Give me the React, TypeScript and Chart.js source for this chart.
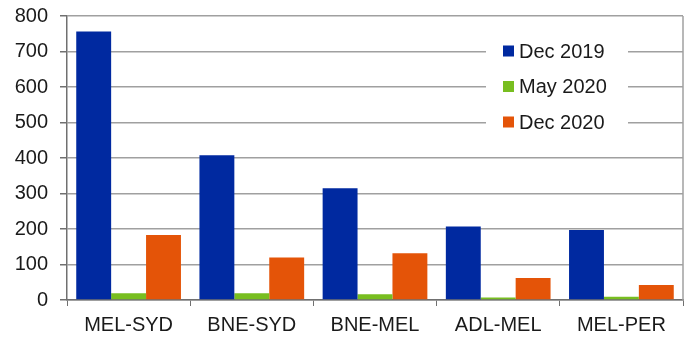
import React, { useEffect, useRef } from "react";
import { Chart, registerables } from "chart.js";

Chart.register(...registerables);

const categories = ["MEL-SYD", "BNE-SYD", "BNE-MEL", "ADL-MEL", "MEL-PER"];
const seriesLabels = ["Dec 2019", "May 2020", "Dec 2020"];
const dec2019 = [756, 408, 315, 207, 197];
const may2020 = [19, 19, 16, 7, 9];
const dec2020 = [183, 120, 132, 62, 42];
const seriesColors = ["#0029a0", "#78be20", "#e45408"];
const yTicks = [0, 100, 200, 300, 400, 500, 600, 700, 800];

const FONT = "'Liberation Sans', Arial, sans-serif";

const frameAndLegend = {
  id: "frameAndLegend",
  afterDatasetsDraw(chart: any) {
    const { ctx, chartArea } = chart;
    ctx.save();
    ctx.strokeStyle = "#a0a0a0";
    ctx.lineWidth = 1.5;
    ctx.beginPath();
    ctx.moveTo(chartArea.right, chartArea.top);
    ctx.lineTo(chartArea.right, chartArea.bottom);
    ctx.stroke();
    ctx.fillStyle = "#ffffff";
    ctx.fillRect(486, 31, 142, 110);
    ctx.font = `20px ${FONT}`;
    ctx.textBaseline = "middle";
    ctx.textAlign = "left";
    chart.data.datasets.forEach((ds: any, i: number) => {
      const cy = 51 + i * 35.5;
      ctx.fillStyle = ds.backgroundColor;
      ctx.fillRect(503, cy - 5.5, 11, 11);
      ctx.fillStyle = "#1a1a1a";
      ctx.fillText(ds.label, 519, cy + 1);
    });
    ctx.restore();
  },
};

export default function App() {
  const ref = useRef<HTMLCanvasElement | null>(null);
  useEffect(() => {
    if (!ref.current) return;
    const data = [dec2019, may2020, dec2020];
    const chart = new Chart(ref.current, {
      type: "bar",
      data: {
        labels: categories,
        datasets: seriesLabels.map((label, i) => ({
          label,
          data: data[i],
          backgroundColor: seriesColors[i],
          borderWidth: 0,
          barPercentage: 1,
          categoryPercentage: 0.85,
        })),
      },
      options: {
        animation: false,
        responsive: false,
        maintainAspectRatio: false,
        layout: { padding: { top: 16, right: 8, left: 0, bottom: 0 } },
        plugins: { legend: { display: false }, tooltip: { enabled: false } },
        scales: {
          x: {
            grid: {
              drawOnChartArea: false,
              drawTicks: true,
              tickLength: 6,
              color: "#707070",
              tickColor: "#707070",
              offset: true,
            },
            border: { color: "#707070", width: 1.5 },
            ticks: {
              font: { family: FONT, size: 20 },
              color: "#1a1a1a",
              padding: 7,
              maxRotation: 0,
            },
            afterFit(scale: any) {
              scale.height = 37;
              scale.paddingLeft = 0;
              scale.paddingRight = 0;
            },
          },
          y: {
            min: 0,
            max: 800,
            afterBuildTicks(scale: any) {
              scale.ticks = yTicks.map((v) => ({ value: v }));
            },
            grid: {
              color: "#a0a0a0",
              lineWidth: 1.5,
              tickLength: 7,
              tickColor: "#707070",
            },
            border: { color: "#707070", width: 1.5 },
            ticks: {
              font: { family: FONT, size: 20 },
              color: "#1a1a1a",
              padding: 12,
            },
            afterFit(scale: any) {
              scale.width = 67;
              scale.paddingTop = 0;
              scale.paddingBottom = 0;
            },
          },
        },
      },
      plugins: [frameAndLegend],
    });
    return () => chart.destroy();
  }, []);
  return (
    <div style={{ position: "fixed", left: 0, top: 0, width: 691, height: 337, background: "#fff" }}>
      <canvas ref={ref} width={691} height={337} style={{ width: 691, height: 337, display: "block" }} />
    </div>
  );
}
